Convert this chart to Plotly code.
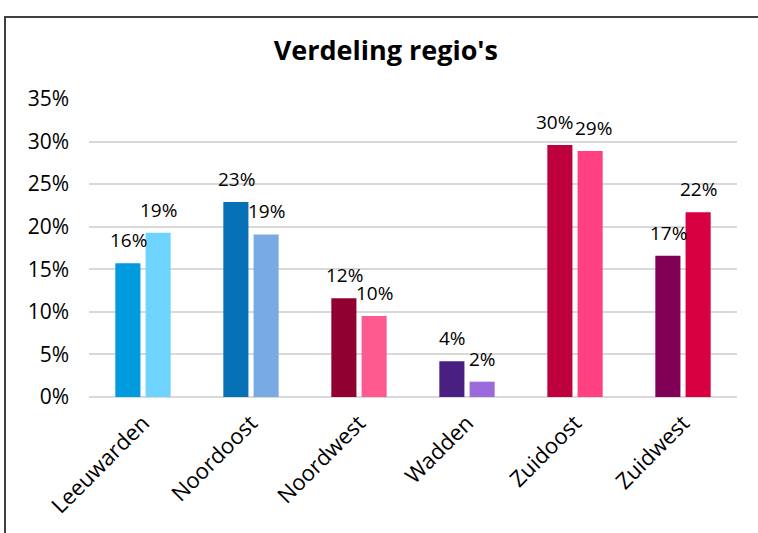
import plotly.graph_objects as go

categories = ["Leeuwarden", "Noordoost", "Noordwest", "Wadden", "Zuidoost", "Zuidwest"]
series_a = [0.157, 0.229, 0.116, 0.042, 0.296, 0.166]
series_b = [0.193, 0.191, 0.095, 0.018, 0.289, 0.217]
labels_a = ["16%", "23%", "12%", "4%", "30%", "17%"]
labels_b = ["19%", "19%", "10%", "2%", "29%", "22%"]
colors_a = ["#009BDE", "#0671B7", "#900030", "#4A1F82", "#BE003C", "#800055"]
colors_b = ["#6FD3FF", "#78ABE4", "#FF5A90", "#9B6BDB", "#FF4081", "#D90042"]
tick_vals = [0, 0.05, 0.10, 0.15, 0.20, 0.25, 0.30, 0.35]
tick_text = ["0%", "5%", "10%", "15%", "20%", "25%", "30%", "35%"]
title_text = "Verdeling regio's"

FONT = "Open Sans"

fig = go.Figure()
fig.add_trace(go.Bar(x=categories, y=series_a, marker=dict(color=colors_a, line=dict(width=0)),
                     showlegend=False, hoverinfo="skip"))
fig.add_trace(go.Bar(x=categories, y=series_b, marker=dict(color=colors_b, line=dict(width=0)),
                     showlegend=False, hoverinfo="skip"))

# small horizontal nudges to avoid overlap of neighbouring labels
nudge_a = [0, 0, 0, 0, -6, 0]
nudge_b = [0, 0, 0, 0, 3, 0]

annotations = []
for i, c in enumerate(categories):
    annotations.append(dict(x=c, y=series_a[i], xref="x", yref="y", text=labels_a[i],
                            showarrow=False, xshift=-15 + nudge_a[i], yshift=23,
                            yanchor="middle", font=dict(family=FONT, size=19, color="#000000")))
    annotations.append(dict(x=c, y=series_b[i], xref="x", yref="y", text=labels_b[i],
                            showarrow=False, xshift=15 + nudge_b[i], yshift=23,
                            yanchor="middle", font=dict(family=FONT, size=19, color="#000000")))

fig.update_layout(
    width=758, height=533,
    margin=dict(l=89, r=21, t=99, b=136),
    paper_bgcolor="#FFFFFF", plot_bgcolor="#FFFFFF",
    barmode="group", bargap=0.44, bargroupgap=0.17,
    title=dict(text="<b>" + title_text + "</b>", x=0.509, xanchor="center", xref="container",
               y=0.906, yanchor="middle",
               font=dict(family=FONT, size=27, color="#000000")),
    font=dict(family=FONT, size=18, color="#000000"),
    xaxis=dict(tickangle=-45, showgrid=False, showline=False, ticks="", ticklabelstandoff=8,
               tickfont=dict(family=FONT, size=22, color="#000000")),
    yaxis=dict(range=[0, 0.35], tickvals=tick_vals, ticktext=tick_text, showgrid=True,
               gridcolor="#D9D9D9", gridwidth=1.5, zeroline=True, zerolinecolor="#D9D9D9",
               zerolinewidth=1.5, showline=False, ticks="", ticklen=0, ticklabelstandoff=19,
               tickfont=dict(family=FONT, size=21, color="#000000")),
    annotations=annotations,
    shapes=[dict(type="rect", xref="paper", yref="paper", x0=-0.1296, x1=1.3, y0=-0.8, y1=1.275,
                 line=dict(color="#404040", width=2), fillcolor="rgba(0,0,0,0)", layer="below")],
)

fig.write_html("out.html", config={"displayModeBar": False},
               post_script="document.body.style.margin='0';")
